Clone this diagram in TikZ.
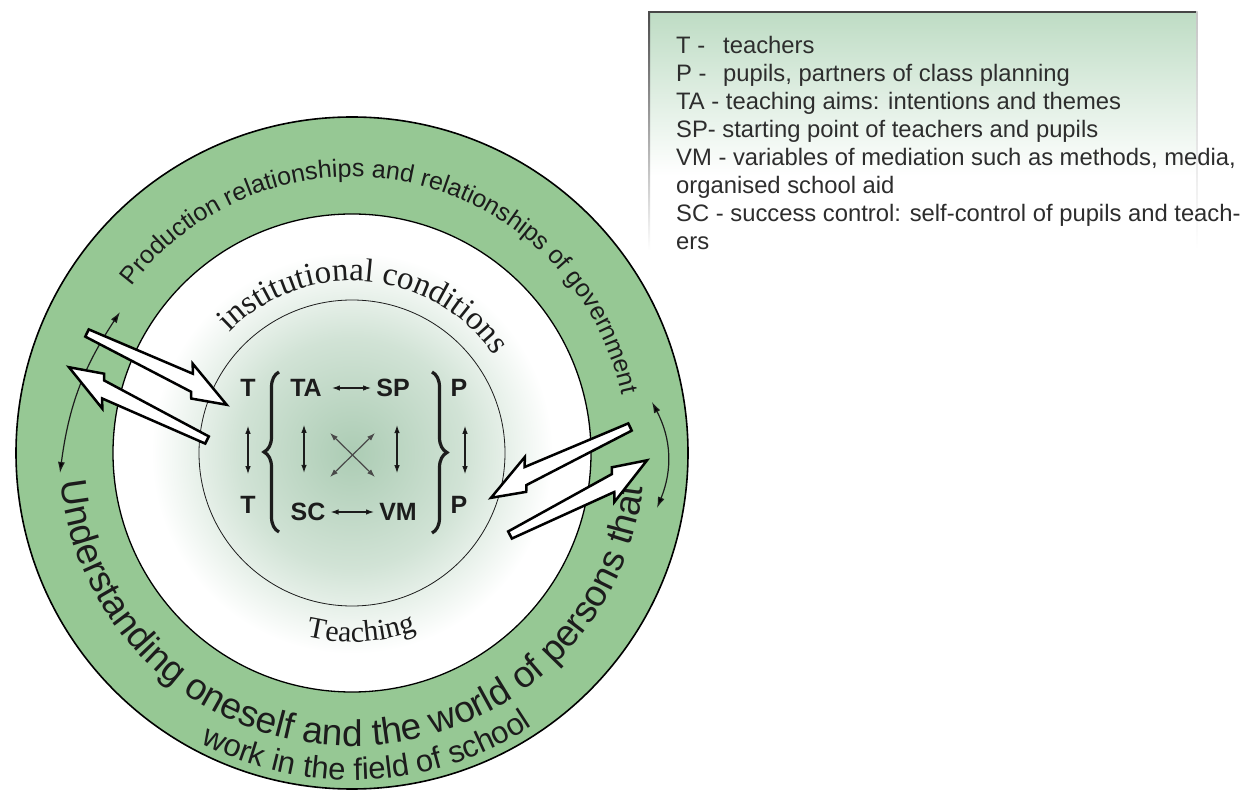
\documentclass[tikz,border=0pt]{standalone}
\usepackage{fontspec}
\setmainfont{Liberation Serif}
\setsansfont{Liberation Sans}
\usetikzlibrary{arrows.meta,decorations.text,decorations.pathreplacing,calc}
\definecolor{ringgreen}{RGB}{150,200,148}
\definecolor{coregreen}{RGB}{172,204,180}
\colorlet{coremid}{coregreen!55!white}
\definecolor{legtop}{RGB}{190,220,196}
\definecolor{inkc}{RGB}{28,28,28}
\definecolor{legink}{RGB}{45,45,45}
\pgfdeclareradialshading{coreshade}{\pgfpoint{0bp}{0bp}}{color(0bp)=(coregreen); color(12bp)=(coremid); color(21bp)=(white); color(50bp)=(white)}
\pgfdeclareverticalshading{legshade}{100bp}{color(0bp)=(white); color(25bp)=(white); color(42bp)=(white); color(75bp)=(legtop); color(100bp)=(legtop)}
\newcommand{\boltarrow}[5]{%
  \begin{scope}[shift={(#1,#2)},rotate=#3,yscale=#5]
    \draw[boltsty] (0,4) -- ({0.72*#4},10) -- ({0.69*#4},19) -- (#4,-3) -- ({0.78*#4},-13) -- ({0.76*#4},-7) -- (0,-4) -- cycle;
  \end{scope}}
\begin{document}
\begin{tikzpicture}[x=1pt,y=1pt,
  legtext/.style={anchor=base west, inner sep=0pt, font=\sffamily\fontsize{23.8}{28}\selectfont, text=legink},
  core/.style={inner sep=0pt, font=\sffamily\bfseries\fontsize{25}{25}\selectfont, text=inkc},
  sarr/.style={{Latex[length=8pt,width=5.5pt]}-{Latex[length=8pt,width=5.5pt]}, line width=1.2pt, draw=inkc},
  carr/.style={{Latex[length=11pt,width=7pt]}-{Latex[length=11pt,width=7pt]}, line width=1.2pt, draw=inkc},
  bracesty/.style={decorate, decoration={brace, amplitude=15pt}, line width=3.2pt, draw=inkc},
  boltsty/.style={fill=white, draw=black, line width=2.5pt, line join=miter, miter limit=6}
]
\useasboundingbox (0,0) rectangle (1244,790);
\fill[white] (0,0) rectangle (1244,790);

% ---------- legend box ----------
\shade[shading=legshade] (649,778) rectangle (1197,530);
\draw[line width=1.2pt, draw=gray!55!black] (649,778) -- (1197,778);
\shade[top color=gray!60!black, bottom color=white] (648.2,778) rectangle (650,540);
\shade[top color=gray!45, bottom color=white] (1196.2,778) rectangle (1197.6,540);
\node[legtext] (l1a) at (676,736.5) {T -};
\node[legtext] (l1b) at (723,736.5) {teachers};
\node[legtext] (l2a) at (676,708.5) {P -};
\node[legtext] (l2b) at (723,708.5) {pupils, partners of class planning};
\node[legtext] (l3) at (676,680.5) {TA - teaching aims: intentions and themes};
\node[legtext] (l4) at (676,652.5) {SP- starting point of teachers and pupils};
\node[legtext] (l5) at (676,624.5) {VM - variables of mediation such as methods, media,};
\node[legtext] (l6) at (676,596.5) {organised school aid};
\node[legtext] (l7) at (676,568.5) {SC - success control: self-control of pupils and teach-};
\node[legtext] (l8) at (676,540.5) {ers};

% ---------- circles ----------
\coordinate (O) at (352,337);
\fill[ringgreen] (O) circle[radius=336];
\draw[line width=1.6pt] (O) circle[radius=336];
\shade[shading=coreshade] (O) circle[radius=239];
\draw[line width=1.3pt] (O) circle[radius=239];
\draw[line width=0.8pt, draw=inkc] (O) circle[radius=153];

% ---------- ring texts ----------
\path[decorate, decoration={text along path, text align=center, text color=inkc,
   text={|\sffamily\fontsize{25}{25}\selectfont|Production relationships and relationships of government}}]
   ($(O)+(150:276)$) arc[start angle=150, end angle=5, radius=276];
\path[decorate, decoration={text along path, text align=center, text color=inkc,
   text={|\sffamily\fontsize{37}{37}\selectfont|Understanding oneself and the world of persons that}}]
   ($(O)+(179:293)$) arc[start angle=179, end angle=360, radius=293];
\path[decorate, decoration={text along path, text align=center, text color=inkc,
   text={|\sffamily\fontsize{31}{31}\selectfont|work in the field of school}}]
   ($(O)+(230:327)$) arc[start angle=230, end angle=316, radius=327];
\path[decorate, decoration={text along path, text align=center, text color=inkc,
   text={|\rmfamily\fontsize{33}{33}\selectfont|institutional conditions}}]
   ($(O)+(150:172)$) arc[start angle=150, end angle=20, radius=172];
\path[decorate, decoration={text along path, text align=center, text color=inkc,
   text={|\rmfamily\fontsize{30}{30}\selectfont|Teaching}}]
   ($(O)+(243:189)$) arc[start angle=243, end angle=303, radius=189];

% ---------- core ----------
\node[core] (T1) at (248,402) {T};
\node[core] (TA) at (306,402) {TA};
\node[core] (SP) at (393,402) {SP};
\node[core] (P1) at (459,402) {P};
\node[core] (T2) at (248,285) {T};
\node[core] (SC) at (308,278) {SC};
\node[core] (VM) at (398,278) {VM};
\node[core] (P2) at (459,285) {P};

\draw[sarr, shorten <=10pt, shorten >=5pt] (TA.east) -- (SP.west);
\draw[sarr, shorten <=5pt, shorten >=5pt] (SC.east) -- (VM.west);
\draw[sarr, shorten <=29pt, shorten >=22pt] (T1.south) -- (T2.north);
\draw[sarr, shorten <=28pt, shorten >=30pt] ([xshift=-2pt]TA.south) -- ([xshift=-4pt]SC.north);
\draw[sarr, shorten <=28pt, shorten >=30pt] ([xshift=4pt]SP.south) -- ([xshift=-1pt]VM.north);
\draw[sarr, shorten <=29pt, shorten >=22pt] ([xshift=6pt]P1.south) -- ([xshift=6pt]P2.north);
\coordinate (xa) at (330,357);
\coordinate (xb) at (375,313);
\coordinate (xc) at (375,357);
\coordinate (xd) at (330,313);
\draw[sarr, draw=inkc!80!white] (xa) -- (xb);
\draw[sarr, draw=inkc!80!white] (xc) -- (xd);

\draw[bracesty] (279,258) -- (279,418);
\draw[bracesty] (432,418) -- (432,257);

% ---------- curved arrows ----------
\coordinate (ca1) at (120,478);
\coordinate (ca2) at (60,317);
\draw[carr] (ca1) to[bend right=13] (ca2);
\coordinate (cb1) at (652,388);
\coordinate (cb2) at (657,282);
\draw[carr] (cb1) to[bend left=25] (cb2);

% ---------- bolt arrows ----------
\boltarrow{87}{457}{-26.1}{157}{1}
\boltarrow{207}{350}{153.3}{156}{1}
\boltarrow{630}{363}{205.9}{156}{-1}
\boltarrow{510}{255}{27.5}{156}{-1}
\end{tikzpicture}
\end{document}
